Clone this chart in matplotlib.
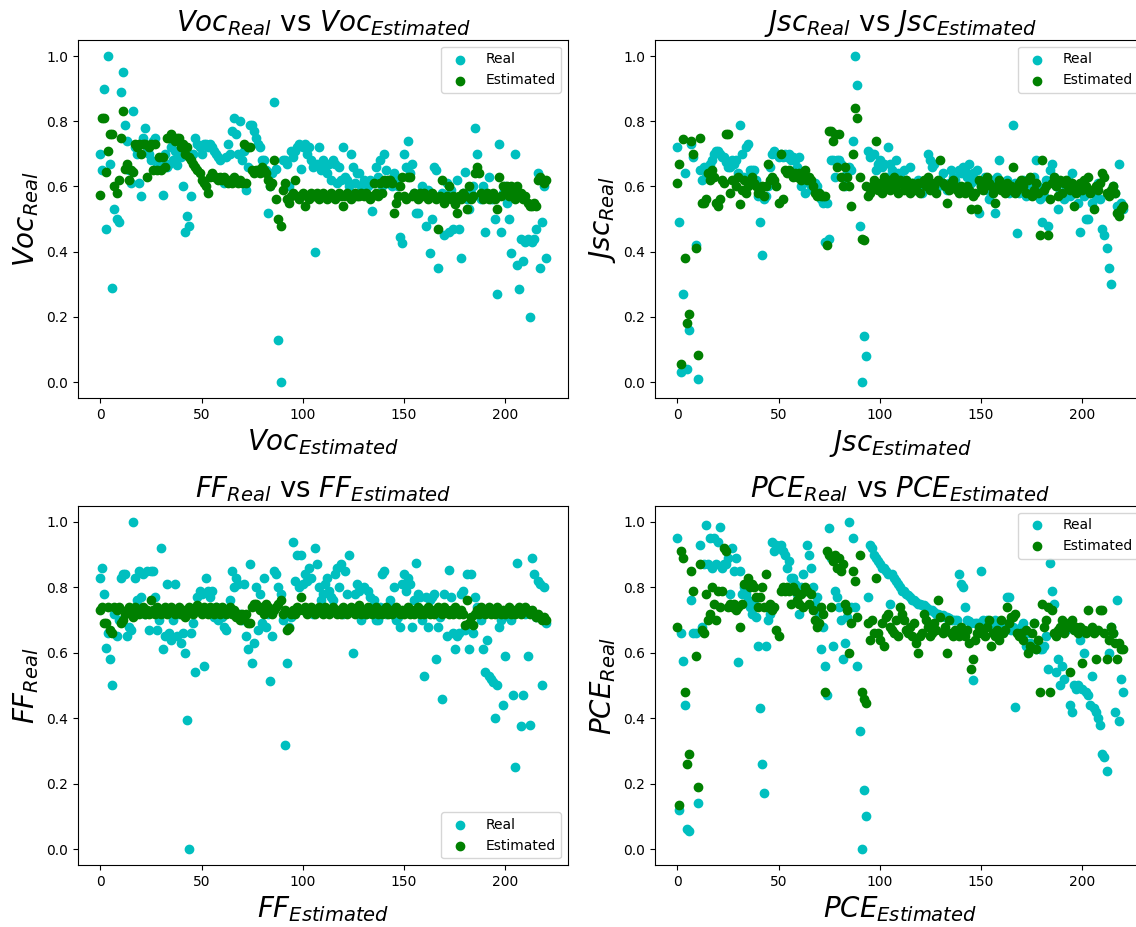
import numpy as np
import matplotlib
matplotlib.use("Agg")
import matplotlib.pyplot as plt

# values, one per sample index (0..220)
voc_real = [0.70, 0.65, 0.90, 0.47, 1.00, 0.67, 0.29, 0.53, 0.50, 0.49,
            0.89, 0.95, 0.79, 0.74, 0.65, 0.61, 0.83, 0.72, 0.70, 0.61,
            0.57, 0.75, 0.78, 0.72, 0.70, 0.68, 0.74, 0.75, 0.66, 0.68,
            0.67, 0.575, 0.70, 0.66, 0.67, 0.72, 0.68, 0.71, 0.665, 0.70,
            0.69, 0.60, 0.46, 0.51, 0.48, 0.57, 0.70, 0.75, 0.73, 0.72,
            0.70, 0.73, 0.73, 0.72, 0.73, 0.72, 0.71, 0.70, 0.69, 0.68,
            0.62, 0.61, 0.69, 0.73, 0.70, 0.77, 0.81, 0.76, 0.70, 0.80,
            0.68, 0.71, 0.59, 0.66, 0.79, 0.79, 0.77, 0.75, 0.73, 0.72,
            0.68, 0.68, 0.65, 0.52, 0.60, 0.64, 0.86, 0.655, 0.13, 0.00,
            0.68, 0.68, 0.67, 0.60, 0.71, 0.69, 0.71, 0.72, 0.73, 0.655,
            0.72, 0.73, 0.70, 0.72, 0.68, 0.66, 0.40, 0.67, 0.72, 0.65,
            0.68, 0.66, 0.64, 0.67, 0.62, 0.68, 0.67, 0.61, 0.66, 0.62,
            0.72, 0.63, 0.62, 0.60, 0.70, 0.66, 0.61, 0.64, 0.64, 0.60,
            0.62, 0.61, 0.60, 0.62, 0.525, 0.61, 0.66, 0.63, 0.68, 0.60,
            0.70, 0.65, 0.61, 0.62, 0.60, 0.64, 0.62, 0.60, 0.445, 0.426,
            0.70, 0.66, 0.74, 0.64, 0.67, 0.58, 0.52, 0.52, 0.57, 0.60,
            0.58, 0.48, 0.59, 0.395, 0.50, 0.66, 0.65, 0.35, 0.57, 0.58,
            0.45, 0.61, 0.46, 0.59, 0.47, 0.56, 0.62, 0.47, 0.38, 0.58,
            0.645, 0.56, 0.53, 0.58, 0.60, 0.78, 0.70, 0.57, 0.56, 0.60,
            0.46, 0.58, 0.63, 0.56, 0.56, 0.50, 0.27, 0.73, 0.46, 0.58,
            0.60, 0.55, 0.50, 0.395, 0.58, 0.70, 0.36, 0.285, 0.44, 0.37,
            0.43, 0.44, 0.20, 0.43, 0.44, 0.47, 0.64, 0.35, 0.49, 0.60,
            0.38]

voc_est = [0.575, 0.81, 0.81, 0.645, 0.71, 0.76, 0.76, 0.60, 0.58, 0.62,
           0.75, 0.83, 0.655, 0.67, 0.62, 0.65, 0.645, 0.73, 0.72, 0.73,
           0.70, 0.73, 0.73, 0.63, 0.72, 0.73, 0.65, 0.73, 0.65, 0.69,
           0.65, 0.69, 0.66, 0.75, 0.75, 0.76, 0.75, 0.74, 0.75, 0.75,
           0.72, 0.73, 0.70, 0.72, 0.69, 0.68, 0.67, 0.66, 0.65, 0.64,
           0.62, 0.61, 0.60, 0.58, 0.63, 0.64, 0.63, 0.63, 0.62, 0.63,
           0.62, 0.63, 0.62, 0.61, 0.62, 0.61, 0.63, 0.62, 0.61, 0.62,
           0.61, 0.73, 0.61, 0.72, 0.72, 0.65, 0.64, 0.65, 0.65, 0.64,
           0.66, 0.65, 0.64, 0.62, 0.60, 0.61, 0.68, 0.56, 0.50, 0.48,
           0.59, 0.61, 0.56, 0.55, 0.57, 0.58, 0.62, 0.57, 0.56, 0.57,
           0.58, 0.54, 0.57, 0.56, 0.58, 0.57, 0.57, 0.58, 0.56, 0.57,
           0.58, 0.57, 0.56, 0.57, 0.58, 0.57, 0.56, 0.57, 0.58, 0.57,
           0.54, 0.57, 0.58, 0.57, 0.56, 0.57, 0.58, 0.57, 0.57, 0.58,
           0.57, 0.58, 0.57, 0.56, 0.57, 0.61, 0.58, 0.57, 0.61, 0.58,
           0.62, 0.61, 0.62, 0.62, 0.61, 0.52, 0.55, 0.57, 0.60, 0.63,
           0.57, 0.56, 0.63, 0.63, 0.57, 0.58, 0.57, 0.56, 0.58, 0.57,
           0.58, 0.57, 0.56, 0.57, 0.58, 0.57, 0.56, 0.47, 0.57, 0.62,
           0.55, 0.57, 0.60, 0.56, 0.57, 0.545, 0.52, 0.57, 0.56, 0.58,
           0.57, 0.53, 0.60, 0.56, 0.57, 0.64, 0.66, 0.64, 0.58, 0.56,
           0.57, 0.58, 0.56, 0.57, 0.58, 0.56, 0.53, 0.63, 0.57, 0.60,
           0.58, 0.60, 0.57, 0.60, 0.58, 0.56, 0.60, 0.57, 0.58, 0.56,
           0.57, 0.55, 0.54, 0.54, 0.55, 0.54, 0.62, 0.63, 0.62, 0.61,
           0.62]

jsc_real = [0.72, 0.49, 0.03, 0.27, 0.64, 0.04, 0.16, 0.73, 0.69, 0.42,
            0.01, 0.65, 0.62, 0.66, 0.63, 0.66, 0.67, 0.68, 0.70, 0.71,
            0.71, 0.70, 0.69, 0.69, 0.675, 0.66, 0.66, 0.68, 0.67, 0.68,
            0.64, 0.79, 0.70, 0.63, 0.72, 0.73, 0.65, 0.65, 0.65, 0.62,
            0.57, 0.49, 0.39, 0.56, 0.57, 0.60, 0.66, 0.70, 0.71, 0.70,
            0.69, 0.70, 0.69, 0.70, 0.69, 0.70, 0.68, 0.69, 0.68, 0.66,
            0.69, 0.60, 0.64, 0.58, 0.62, 0.61, 0.60, 0.59, 0.61, 0.60,
            0.58, 0.56, 0.55, 0.43, 0.55, 0.44, 0.68, 0.68, 0.63, 0.68,
            0.68, 0.67, 0.63, 0.60, 0.64, 0.66, 0.65, 0.74, 1.00, 0.91,
            0.48, 0.00, 0.14, 0.08, 0.71, 0.69, 0.70, 0.70, 0.65, 0.67,
            0.68, 0.66, 0.67, 0.63, 0.72, 0.67, 0.65, 0.62, 0.68, 0.64,
            0.63, 0.61, 0.65, 0.62, 0.60, 0.66, 0.61, 0.60, 0.59, 0.62,
            0.60, 0.58, 0.61, 0.62, 0.70, 0.68, 0.66, 0.67, 0.59, 0.60,
            0.62, 0.64, 0.60, 0.59, 0.61, 0.65, 0.63, 0.62, 0.60, 0.65,
            0.64, 0.66, 0.65, 0.63, 0.67, 0.61, 0.64, 0.62, 0.65, 0.52,
            0.60, 0.61, 0.63, 0.59, 0.56, 0.60, 0.62, 0.52, 0.63, 0.68,
            0.60, 0.61, 0.59, 0.62, 0.58, 0.60, 0.79, 0.61, 0.456, 0.58,
            0.60, 0.62, 0.57, 0.59, 0.61, 0.58, 0.63, 0.68, 0.60, 0.56,
            0.49, 0.57, 0.62, 0.48, 0.65, 0.67, 0.63, 0.60, 0.53, 0.58,
            0.61, 0.56, 0.59, 0.62, 0.57, 0.64, 0.58, 0.59, 0.55, 0.46,
            0.60, 0.57, 0.50, 0.50, 0.58, 0.55, 0.59, 0.57, 0.61, 0.56,
            0.47, 0.45, 0.41, 0.35, 0.30, 0.60, 0.58, 0.54, 0.67, 0.55,
            0.53]

jsc_est = [0.61, 0.67, 0.055, 0.745, 0.38, 0.18, 0.21, 0.74, 0.70, 0.41,
           0.083, 0.75, 0.55, 0.55, 0.56, 0.64, 0.62, 0.65, 0.63, 0.55,
           0.54, 0.56, 0.62, 0.61, 0.76, 0.76, 0.58, 0.62, 0.62, 0.60,
           0.63, 0.545, 0.59, 0.62, 0.58, 0.60, 0.61, 0.63, 0.61, 0.60,
           0.58, 0.59, 0.60, 0.57, 0.60, 0.67, 0.62, 0.63, 0.62, 0.60,
           0.55, 0.70, 0.56, 0.65, 0.64, 0.65, 0.64, 0.63, 0.64, 0.63,
           0.64, 0.62, 0.63, 0.65, 0.62, 0.63, 0.62, 0.60, 0.58, 0.57,
           0.58, 0.57, 0.57, 0.57, 0.42, 0.77, 0.77, 0.74, 0.76, 0.66,
           0.76, 0.63, 0.60, 0.66, 0.63, 0.60, 0.54, 0.70, 0.84, 0.81,
           0.63, 0.44, 0.435, 0.60, 0.57, 0.58, 0.60, 0.62, 0.74, 0.59,
           0.61, 0.58, 0.63, 0.60, 0.62, 0.59, 0.61, 0.63, 0.60, 0.58,
           0.62, 0.61, 0.59, 0.62, 0.60, 0.58, 0.61, 0.59, 0.60, 0.61,
           0.58, 0.61, 0.62, 0.60, 0.63, 0.59, 0.61, 0.60, 0.58, 0.62,
           0.68, 0.61, 0.60, 0.55, 0.59, 0.61, 0.62, 0.60, 0.59, 0.58,
           0.60, 0.59, 0.58, 0.60, 0.59, 0.53, 0.57, 0.58, 0.53, 0.62,
           0.60, 0.59, 0.61, 0.63, 0.61, 0.60, 0.58, 0.55, 0.60, 0.62,
           0.59, 0.60, 0.58, 0.61, 0.59, 0.60, 0.66, 0.58, 0.59, 0.61,
           0.62, 0.60, 0.58, 0.62, 0.63, 0.57, 0.59, 0.61, 0.58, 0.45,
           0.68, 0.59, 0.60, 0.45, 0.56, 0.61, 0.63, 0.60, 0.57, 0.62,
           0.58, 0.61, 0.62, 0.60, 0.59, 0.61, 0.54, 0.58, 0.60, 0.61,
           0.59, 0.62, 0.60, 0.63, 0.58, 0.59, 0.53, 0.60, 0.59, 0.61,
           0.64, 0.63, 0.58, 0.57, 0.59, 0.60, 0.58, 0.52, 0.51, 0.53,
           0.54]

ff_real = [0.83, 0.86, 0.78, 0.614, 0.66, 0.58, 0.50, 0.72, 0.65, 0.70,
           0.83, 0.84, 0.84, 0.65, 0.68, 0.67, 1.00, 0.83, 0.76, 0.85,
           0.77, 0.84, 0.72, 0.85, 0.67, 0.85, 0.85, 0.77, 0.67, 0.70,
           0.92, 0.61, 0.65, 0.81, 0.66, 0.64, 0.70, 0.81, 0.65, 0.72,
           0.63, 0.66, 0.60, 0.395, 0.00, 0.66, 0.69, 0.54, 0.77, 0.79,
           0.78, 0.56, 0.83, 0.79, 0.77, 0.79, 0.71, 0.74, 0.70, 0.72,
           0.71, 0.68, 0.67, 0.73, 0.76, 0.85, 0.80, 0.83, 0.81, 0.72,
           0.70, 0.81, 0.65, 0.61, 0.87, 0.57, 0.63, 0.80, 0.67, 0.78,
           0.69, 0.83, 0.68, 0.72, 0.514, 0.65, 0.85, 0.84, 0.80, 0.78,
           0.70, 0.318, 0.57, 0.68, 0.71, 0.94, 0.82, 0.90, 0.80, 0.90,
           0.81, 0.84, 0.82, 0.86, 0.83, 0.72, 0.92, 0.87, 0.80, 0.76,
           0.78, 0.81, 0.83, 0.79, 0.77, 0.76, 0.84, 0.86, 0.80, 0.87,
           0.72, 0.85, 0.78, 0.90, 0.73, 0.60, 0.78, 0.81, 0.79, 0.70,
           0.80, 0.72, 0.79, 0.77, 0.74, 0.76, 0.70, 0.70, 0.74, 0.84,
           0.85, 0.72, 0.74, 0.76, 0.72, 0.80, 0.70, 0.71, 0.68, 0.81,
           0.84, 0.79, 0.83, 0.81, 0.68, 0.76, 0.874, 0.78, 0.77, 0.70,
           0.53, 0.77, 0.68, 0.76, 0.77, 0.78, 0.58, 0.68, 0.71, 0.46,
           0.78, 0.65, 0.853, 0.77, 0.66, 0.61, 0.65, 0.66, 0.78, 0.79,
           0.67, 0.84, 0.61, 0.84, 0.66, 0.77, 0.74, 0.72, 0.70, 0.61,
           0.54, 0.64, 0.53, 0.52, 0.51, 0.40, 0.50, 0.68, 0.70, 0.44,
           0.59, 0.72, 0.71, 0.70, 0.47, 0.25, 0.874, 0.73, 0.375, 0.47,
           0.72, 0.59, 0.38, 0.89, 0.84, 0.71, 0.82, 0.81, 0.50, 0.80,
           0.69]

ff_est = [0.73, 0.74, 0.69, 0.69, 0.74, 0.67, 0.66, 0.74, 0.73, 0.74,
          0.69, 0.70, 0.72, 0.73, 0.74, 0.72, 0.71, 0.74, 0.73, 0.72,
          0.73, 0.74, 0.72, 0.73, 0.72, 0.76, 0.73, 0.72, 0.74, 0.73,
          0.72, 0.73, 0.74, 0.72, 0.73, 0.74, 0.73, 0.72, 0.73, 0.74,
          0.72, 0.73, 0.71, 0.72, 0.74, 0.73, 0.72, 0.73, 0.745, 0.73,
          0.72, 0.74, 0.73, 0.72, 0.74, 0.73, 0.72, 0.74, 0.73, 0.72,
          0.74, 0.73, 0.72, 0.73, 0.74, 0.72, 0.73, 0.71, 0.72, 0.70,
          0.72, 0.71, 0.72, 0.69, 0.69, 0.74, 0.75, 0.75, 0.74, 0.73,
          0.74, 0.72, 0.75, 0.74, 0.73, 0.72, 0.73, 0.74, 0.75, 0.76,
          0.72, 0.73, 0.67, 0.675, 0.72, 0.73, 0.72, 0.74, 0.73, 0.77,
          0.73, 0.74, 0.72, 0.73, 0.74, 0.73, 0.72, 0.73, 0.74, 0.73,
          0.72, 0.74, 0.73, 0.72, 0.73, 0.74, 0.73, 0.72, 0.73, 0.72,
          0.74, 0.73, 0.72, 0.73, 0.74, 0.73, 0.72, 0.73, 0.745, 0.72,
          0.73, 0.72, 0.74, 0.73, 0.72, 0.73, 0.74, 0.72, 0.73, 0.72,
          0.73, 0.74, 0.72, 0.73, 0.72, 0.73, 0.74, 0.73, 0.72, 0.73,
          0.72, 0.73, 0.74, 0.72, 0.73, 0.72, 0.73, 0.74, 0.72, 0.73,
          0.72, 0.73, 0.74, 0.72, 0.73, 0.72, 0.73, 0.74, 0.73, 0.72,
          0.74, 0.73, 0.72, 0.73, 0.72, 0.74, 0.73, 0.72, 0.73, 0.72,
          0.685, 0.76, 0.69, 0.71, 0.685, 0.72, 0.73, 0.72, 0.74, 0.73,
          0.72, 0.73, 0.74, 0.72, 0.73, 0.72, 0.74, 0.73, 0.72, 0.73,
          0.72, 0.73, 0.74, 0.72, 0.73, 0.72, 0.73, 0.74, 0.72, 0.73,
          0.74, 0.73, 0.72, 0.73, 0.72, 0.71, 0.72, 0.71, 0.70, 0.71,
          0.70]

pce_real = [0.95, 0.12, 0.66, 0.576, 0.44, 0.06, 0.055, 0.76, 0.66, 0.66,
            0.14, 0.93, 0.68, 0.87, 0.99, 0.87, 0.95, 0.86, 0.95, 0.87,
            0.94, 0.986, 0.86, 0.87, 0.87, 0.89, 0.78, 0.92, 0.85, 0.89,
            0.573, 0.85, 0.78, 0.80, 0.78, 0.76, 0.74, 0.72, 0.75, 0.71,
            0.62, 0.43, 0.26, 0.17, 0.62, 0.70, 0.72, 0.94, 0.91, 0.93,
            0.92, 0.93, 0.91, 0.90, 0.86, 0.88, 0.83, 0.83, 0.81, 0.78,
            0.72, 0.80, 0.84, 0.79, 0.93, 0.90, 0.86, 0.80, 0.75, 0.77,
            0.72, 0.61, 0.68, 0.56, 0.47, 0.98, 0.89, 0.62, 0.79, 0.77,
            0.74, 0.70, 0.58, 0.63, 0.71, 1.00, 0.74, 0.95, 0.74, 0.56,
            0.36, 0.00, 0.18, 0.10, 0.77, 0.93, 0.92, 0.90, 0.89, 0.88,
            0.87, 0.86, 0.86, 0.85, 0.84, 0.75, 0.84, 0.83, 0.82, 0.81,
            0.80, 0.79, 0.79, 0.78, 0.777, 0.77, 0.76, 0.76, 0.755, 0.75,
            0.75, 0.745, 0.745, 0.74, 0.735, 0.73, 0.73, 0.725, 0.72, 0.72,
            0.715, 0.716, 0.71, 0.71, 0.705, 0.70, 0.70, 0.70, 0.70, 0.84,
            0.81, 0.80, 0.74, 0.70, 0.698, 0.69, 0.517, 0.69, 0.69, 0.687,
            0.85, 0.70, 0.69, 0.70, 0.69, 0.68, 0.69, 0.70, 0.69, 0.68,
            0.67, 0.69, 0.68, 0.77, 0.77, 0.67, 0.68, 0.435, 0.67, 0.66,
            0.68, 0.69, 0.62, 0.66, 0.63, 0.62, 0.69, 0.61, 0.62, 0.61,
            0.61, 0.62, 0.65, 0.55, 0.874, 0.79, 0.75, 0.54, 0.58, 0.50,
            0.56, 0.52, 0.67, 0.68, 0.44, 0.42, 0.50, 0.49, 0.50, 0.64,
            0.49, 0.60, 0.48, 0.47, 0.44, 0.53, 0.43, 0.42, 0.40, 0.38,
            0.29, 0.28, 0.24, 0.60, 0.68, 0.66, 0.42, 0.76, 0.39, 0.52,
            0.48]

pce_est = [0.68, 0.135, 0.91, 0.89, 0.48, 0.26, 0.29, 0.85, 0.79, 0.59,
           0.19, 0.87, 0.67, 0.66, 0.78, 0.70, 0.72, 0.80, 0.75, 0.70,
           0.79, 0.74, 0.79, 0.92, 0.91, 0.74, 0.75, 0.74, 0.75, 0.73,
           0.74, 0.68, 0.75, 0.81, 0.81, 0.83, 0.80, 0.81, 0.80, 0.77,
           0.74, 0.77, 0.80, 0.74, 0.84, 0.74, 0.75, 0.73, 0.74, 0.67,
           0.65, 0.79, 0.80, 0.79, 0.80, 0.79, 0.75, 0.80, 0.79, 0.76,
           0.75, 0.78, 0.74, 0.80, 0.79, 0.75, 0.78, 0.73, 0.70, 0.68,
           0.69, 0.74, 0.72, 0.48, 0.91, 0.90, 0.74, 0.88, 0.90, 0.86,
           0.89, 0.85, 0.87, 0.75, 0.73, 0.60, 0.69, 0.85, 0.82, 0.71,
           0.90, 0.48, 0.46, 0.445, 0.69, 0.64, 0.70, 0.66, 0.83, 0.66,
           0.64, 0.69, 0.62, 0.71, 0.72, 0.68, 0.67, 0.66, 0.70, 0.65,
           0.74, 0.72, 0.70, 0.67, 0.66, 0.68, 0.65, 0.69, 0.63, 0.60,
           0.65, 0.66, 0.72, 0.70, 0.68, 0.65, 0.66, 0.69, 0.67, 0.76,
           0.71, 0.66, 0.68, 0.60, 0.70, 0.66, 0.65, 0.67, 0.66, 0.65,
           0.68, 0.66, 0.65, 0.67, 0.63, 0.55, 0.58, 0.64, 0.66, 0.68,
           0.66, 0.67, 0.65, 0.68, 0.70, 0.62, 0.66, 0.65, 0.67, 0.64,
           0.70, 0.66, 0.67, 0.74, 0.69, 0.71, 0.71, 0.72, 0.66, 0.65,
           0.66, 0.64, 0.67, 0.60, 0.62, 0.66, 0.69, 0.61, 0.64, 0.48,
           0.75, 0.68, 0.70, 0.74, 0.48, 0.73, 0.66, 0.65, 0.67, 0.68,
           0.70, 0.66, 0.69, 0.68, 0.54, 0.70, 0.67, 0.68, 0.66, 0.68,
           0.57, 0.67, 0.66, 0.73, 0.67, 0.68, 0.66, 0.58, 0.67, 0.73,
           0.73, 0.66, 0.58, 0.64, 0.68, 0.66, 0.63, 0.58, 0.63, 0.61,
           0.61]

panels = [
    ("Voc", voc_real, voc_est, "upper right"),
    ("Jsc", jsc_real, jsc_est, "upper right"),
    ("FF", ff_real, ff_est, "lower right"),
    ("PCE", pce_real, pce_est, "upper right"),
]

fig = plt.figure(figsize=(11.36, 9.27), dpi=100)
boxes = [
    [0.0687, 0.5703, 0.4313, 0.3868],
    [0.5766, 0.5703, 0.4313, 0.3868],
    [0.0687, 0.0665, 0.4313, 0.3881],
    [0.5766, 0.0665, 0.4313, 0.3881],
]

for box, (name, real, est, loc) in zip(boxes, panels):
    ax = fig.add_axes(box)
    ax.scatter(np.arange(len(real)), real, c="c", label="Real")
    ax.scatter(np.arange(len(est)), est, c="g", label="Estimated")
    ax.set_title(f"${name}_{{Real}}$ vs ${name}_{{Estimated}}$", fontsize=20)
    ax.set_xlabel(f"${name}_{{Estimated}}$", fontsize=20)
    ax.set_ylabel(f"${name}_{{Real}}$", fontsize=20)
    ax.legend(loc=loc)

fig.savefig("out.png", dpi=100)
